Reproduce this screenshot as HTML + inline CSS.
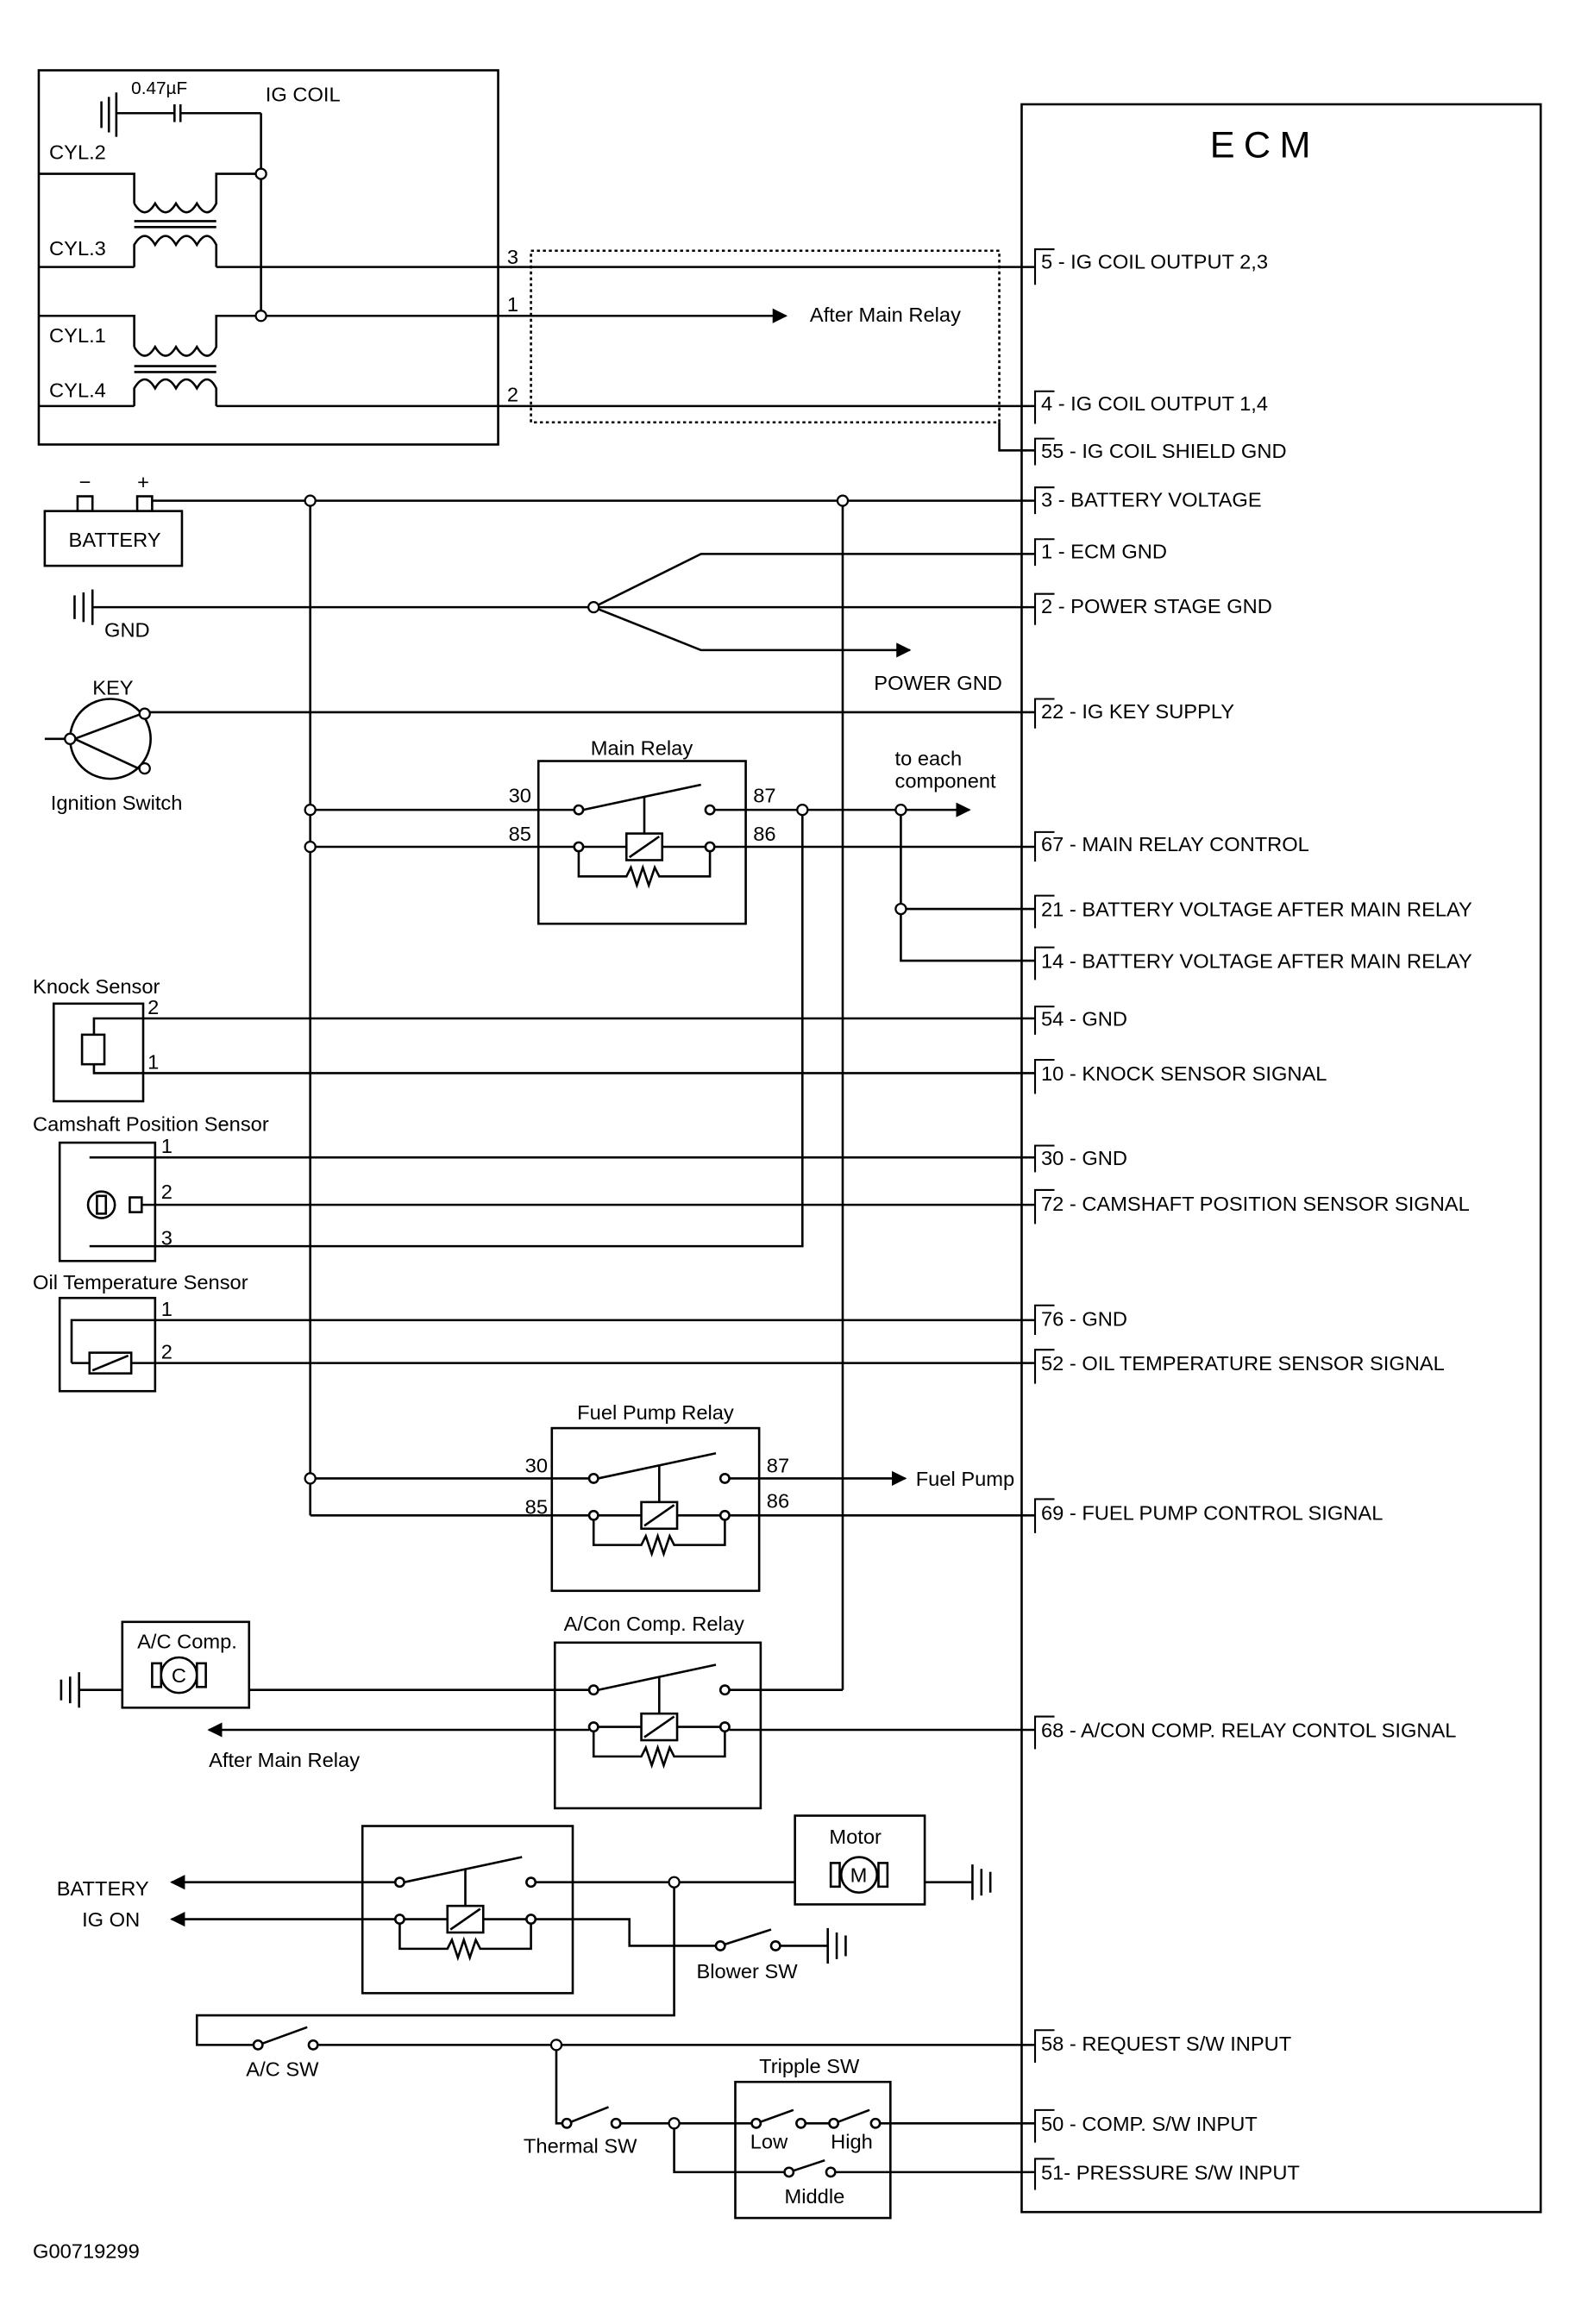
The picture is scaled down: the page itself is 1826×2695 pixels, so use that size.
<!DOCTYPE html>
<html><head><meta charset="utf-8"><style>
html,body{margin:0;padding:0;background:#fff}
svg{display:block}
text{font-family:"Liberation Sans",Arial,sans-serif;font-size:13.7px;fill:#000}
</style></head><body>
<svg width="1826" height="2695" viewBox="0 0 1056 1558" preserveAspectRatio="none" xmlns="http://www.w3.org/2000/svg">
<defs>
<marker id="ar" markerWidth="10" markerHeight="10" refX="9" refY="5" orient="auto" markerUnits="userSpaceOnUse"><path d="M0,0 L10,5 L0,10 z" fill="#000"/></marker>
<g id="relay">
 <circle cx="0" cy="0" r="3" fill="#fff" stroke="#000"/>
 <circle cx="88" cy="0" r="3" fill="#fff" stroke="#000"/>
 <circle cx="0" cy="25" r="3" fill="#fff" stroke="#000"/>
 <circle cx="88" cy="25" r="3" fill="#fff" stroke="#000"/>
 <line x1="3" y1="0" x2="82" y2="-17"/>
 <line x1="44" y1="-9" x2="44" y2="16"/>
 <line x1="3" y1="25" x2="32" y2="25"/>
 <line x1="56" y1="25" x2="85" y2="25"/>
 <rect x="32" y="16" width="24" height="18" fill="#fff"/>
 <line x1="34" y1="32" x2="54" y2="18"/>
 <polyline points="0,28 0,45 32,45 35,39 39,51 43,39 47,51 51,39 54,45 88,45 88,28" fill="none"/>
</g>
</defs>
<g transform="translate(0,2.5) scale(1,0.9916)">
<g stroke="#000" stroke-width="1.5" fill="none">
<rect x="26" y="45" width="308" height="253"/>
<line x1="68" y1="66" x2="68" y2="84"/><line x1="73" y1="63" x2="73" y2="87"/>
<line x1="78" y1="60" x2="78" y2="90"/>
<line x1="78" y1="74" x2="117" y2="74"/><line x1="117" y1="68" x2="117" y2="80"/><line x1="121" y1="68" x2="121" y2="80"/>
<line x1="121" y1="74" x2="175" y2="74"/>
<line x1="175" y1="74" x2="175" y2="208"/>
<polyline points="26,115 90,115 90,135"/>
<path d="M90,135 q7,12 14,0 q7,12 14,0 q7,12 14,0 q7,12 13,0 L145,115 L172,115"/>
<line x1="90" y1="147" x2="145" y2="147"/><line x1="90" y1="151" x2="145" y2="151"/>
<path d="M90,178 L90,163 q7,-12 14,0 q7,-12 14,0 q7,-12 14,0 q7,-12 13,0 L145,178"/>
<polyline points="26,178 90,178"/>
<line x1="145" y1="178" x2="694" y2="178"/>
<polyline points="26,211 90,211 90,232"/>
<path d="M90,232 q7,12 14,0 q7,12 14,0 q7,12 14,0 q7,12 13,0 L145,211 L172,211"/>
<line x1="90" y1="245" x2="145" y2="245"/><line x1="90" y1="249" x2="145" y2="249"/>
<path d="M90,272 L90,260 q7,-12 14,0 q7,-12 14,0 q7,-12 14,0 q7,-12 13,0 L145,272"/>
<polyline points="26,272 90,272"/>
<line x1="145" y1="272" x2="694" y2="272"/>
<line x1="178" y1="211" x2="527" y2="211" marker-end="url(#ar)"/>
<rect x="356" y="167" width="314" height="116" stroke-dasharray="2,2"/>
<polyline points="670,283 670,302 694,302"/>
<rect x="685" y="68" width="348" height="1425"/>
<rect x="30" y="343" width="92" height="37"/>
<rect x="52" y="333" width="10" height="10"/><rect x="92" y="333" width="10" height="10"/>
<line x1="102" y1="336" x2="694" y2="336"/>
<line x1="50" y1="400" x2="50" y2="416"/><line x1="56" y1="398" x2="56" y2="418"/><line x1="62" y1="396" x2="62" y2="420"/>
<line x1="62" y1="408" x2="694" y2="408"/>
<polyline points="398,408 470,372 694,372"/>
<polyline points="398,408 470,437 610,437" marker-end="url(#ar)"/>
<circle cx="74" cy="497" r="27"/>
<line x1="50" y1="497" x2="95" y2="518"/><line x1="50" y1="497" x2="95" y2="480"/>
<line x1="30" y1="497" x2="47" y2="497"/>
<line x1="97" y1="479" x2="694" y2="479"/>
<line x1="208" y1="336" x2="208" y2="1022"/>
<line x1="565" y1="336" x2="565" y2="1140"/>
<line x1="208" y1="545" x2="385" y2="545"/>
<line x1="208" y1="570" x2="385" y2="570"/>
<line x1="479" y1="545" x2="650" y2="545" marker-end="url(#ar)"/>
<line x1="479" y1="570" x2="694" y2="570"/>
<polyline points="538,545 538,840 60,840"/>
<polyline points="604,545 604,647 694,647"/>
<line x1="604" y1="612" x2="694" y2="612"/>
<rect x="361" y="512" width="139" height="110"/>
<g transform="translate(388,545)"><use href="#relay"/></g>
<rect x="36" y="676" width="60" height="66"/>
<rect x="55" y="697" width="15" height="20"/>
<polyline points="63,697 63,686 96,686"/><polyline points="63,717 63,723 96,723"/>
<line x1="96" y1="686" x2="694" y2="686"/>
<line x1="96" y1="723" x2="694" y2="723"/>
<rect x="40" y="770" width="64" height="80"/>
<circle cx="68" cy="812" r="9"/><rect x="65" y="806" width="6" height="12"/>
<rect x="87" y="807" width="8" height="10"/>
<line x1="60" y1="780" x2="694" y2="780"/>
<line x1="95" y1="812" x2="694" y2="812"/>
<rect x="40" y="875" width="64" height="63"/>
<rect x="60" y="912" width="28" height="14"/><line x1="62" y1="924" x2="86" y2="914"/>
<polyline points="48,919 48,890 104,890"/>
<line x1="48" y1="919" x2="60" y2="919"/>
<line x1="88" y1="919" x2="104" y2="919"/>
<line x1="104" y1="890" x2="694" y2="890"/>
<line x1="104" y1="919" x2="694" y2="919"/>
<rect x="370" y="963" width="139" height="110"/>
<g transform="translate(398,997)"><use href="#relay"/></g>
<line x1="208" y1="997" x2="395" y2="997"/>
<line x1="208" y1="1022" x2="395" y2="1022"/>
<line x1="489" y1="997" x2="607" y2="997" marker-end="url(#ar)"/>
<line x1="489" y1="1022" x2="694" y2="1022"/>
<rect x="372" y="1108" width="138" height="112"/>
<g transform="translate(398,1140)"><use href="#relay"/></g>
<line x1="167" y1="1140" x2="395" y2="1140"/>
<line x1="489" y1="1140" x2="565" y2="1140"/>
<line x1="395" y1="1167" x2="140" y2="1167" marker-end="url(#ar)"/>
<line x1="489" y1="1167" x2="694" y2="1167"/>
<rect x="82" y="1094" width="85" height="58"/>
<circle cx="120" cy="1130" r="12"/>
<rect x="102" y="1122" width="6" height="16"/><rect x="132" y="1122" width="6" height="16"/>
<line x1="41" y1="1133" x2="41" y2="1147"/><line x1="47" y1="1131" x2="47" y2="1149"/><line x1="53" y1="1128" x2="53" y2="1152"/>
<line x1="53" y1="1140" x2="82" y2="1140"/>
<rect x="243" y="1232" width="141" height="113"/>
<g transform="translate(268,1270)"><use href="#relay"/></g>
<line x1="265" y1="1270" x2="115" y2="1270" marker-end="url(#ar)"/>
<line x1="265" y1="1295" x2="115" y2="1295" marker-end="url(#ar)"/>
<line x1="359" y1="1270" x2="533" y2="1270"/>
<polyline points="359,1295 422,1295 422,1313 480,1313"/>
<circle cx="483" cy="1313" r="3" fill="#fff"/><circle cx="520" cy="1313" r="3" fill="#fff"/>
<line x1="486" y1="1312" x2="517" y2="1302"/>
<line x1="523" y1="1313" x2="555" y2="1313"/>
<line x1="555" y1="1301" x2="555" y2="1325"/><line x1="561" y1="1304" x2="561" y2="1322"/><line x1="567" y1="1306" x2="567" y2="1320"/>
<rect x="533" y="1225" width="87" height="60"/>
<circle cx="576" cy="1265" r="12"/>
<rect x="557" y="1257" width="6" height="16"/><rect x="589" y="1257" width="6" height="16"/>
<line x1="620" y1="1270" x2="652" y2="1270"/>
<line x1="652" y1="1258" x2="652" y2="1282"/><line x1="658" y1="1261" x2="658" y2="1279"/><line x1="664" y1="1263" x2="664" y2="1277"/>
<polyline points="452,1270 452,1360 132,1360 132,1380 170,1380"/>
<circle cx="173" cy="1380" r="3" fill="#fff"/><circle cx="210" cy="1380" r="3" fill="#fff"/>
<line x1="176" y1="1379" x2="206" y2="1368"/>
<line x1="213" y1="1380" x2="694" y2="1380"/>
<polyline points="373,1380 373,1433 377,1433"/>
<circle cx="380" cy="1433" r="3" fill="#fff"/><circle cx="413" cy="1433" r="3" fill="#fff"/>
<line x1="383" y1="1432" x2="408" y2="1422"/>
<line x1="416" y1="1433" x2="504" y2="1433"/>
<polyline points="452,1433 452,1466 526,1466"/>
<rect x="493" y="1405" width="104" height="92"/>
<circle cx="507" cy="1433" r="3" fill="#fff"/><circle cx="537" cy="1433" r="3" fill="#fff"/>
<line x1="510" y1="1432" x2="532" y2="1424"/>
<line x1="540" y1="1433" x2="556" y2="1433"/>
<circle cx="559" cy="1433" r="3" fill="#fff"/><circle cx="587" cy="1433" r="3" fill="#fff"/>
<line x1="562" y1="1432" x2="583" y2="1424"/>
<line x1="590" y1="1433" x2="694" y2="1433"/>
<circle cx="529" cy="1466" r="3" fill="#fff"/><circle cx="557" cy="1466" r="3" fill="#fff"/>
<line x1="532" y1="1465" x2="553" y2="1458"/>
<line x1="560" y1="1466" x2="694" y2="1466"/>
<g stroke-width="1.2">
<path d="M707,166 L694,166 L694,190"/><path d="M707,262 L694,262 L694,284"/><path d="M707,294 L694,294 L694,312"/>
<path d="M707,327 L694,327 L694,345"/><path d="M707,362 L694,362 L694,380"/><path d="M707,399 L694,399 L694,420"/>
<path d="M707,470 L694,470 L694,490"/><path d="M707,560 L694,560 L694,580"/><path d="M707,603 L694,603 L694,625"/>
<path d="M707,638 L694,638 L694,660"/><path d="M707,678 L694,678 L694,697"/><path d="M707,714 L694,714 L694,737"/>
<path d="M707,772 L694,772 L694,790"/><path d="M707,802 L694,802 L694,825"/><path d="M707,880 L694,880 L694,900"/>
<path d="M707,910 L694,910 L694,933"/><path d="M707,1011 L694,1011 L694,1034"/><path d="M707,1158 L694,1158 L694,1180"/>
<path d="M707,1370 L694,1370 L694,1392"/><path d="M707,1424 L694,1424 L694,1446"/><path d="M707,1457 L694,1457 L694,1478"/>
</g>
</g>
<g fill="#fff" stroke="#000" stroke-width="1.3">
<circle cx="175" cy="115" r="3.5"/><circle cx="175" cy="211" r="3.5"/>
<circle cx="208" cy="336" r="3.5"/><circle cx="565" cy="336" r="3.5"/><circle cx="398" cy="408" r="3.5"/>
<circle cx="208" cy="545" r="3.5"/><circle cx="208" cy="570" r="3.5"/><circle cx="538" cy="545" r="3.5"/>
<circle cx="604" cy="545" r="3.5"/><circle cx="604" cy="612" r="3.5"/><circle cx="208" cy="997" r="3.5"/>
<circle cx="452" cy="1270" r="3.5"/><circle cx="373" cy="1380" r="3.5"/><circle cx="452" cy="1433" r="3.5"/>
<circle cx="97" cy="480" r="3.5"/><circle cx="97" cy="517" r="3.5"/><circle cx="47" cy="497" r="3.5"/>
</g>
<text x="88" y="61" style="font-size:12px">0.47µF</text>
<text x="178" y="66">IG COIL</text>
<text x="33" y="105">CYL.2</text><text x="33" y="170">CYL.3</text>
<text x="33" y="229">CYL.1</text><text x="33" y="266">CYL.4</text>
<text x="340" y="176">3</text><text x="340" y="208">1</text><text x="340" y="269">2</text>
<text x="543" y="215">After Main Relay</text>
<text x="848" y="104" text-anchor="middle" style="font-size:25px;letter-spacing:6px">ECM</text>
<text x="53" y="328">−</text><text x="92" y="328">+</text>
<text x="46" y="367">BATTERY</text>
<text x="70" y="428">GND</text>
<text x="586" y="464">POWER GND</text>
<text x="62" y="467">KEY</text>
<text x="34" y="545">Ignition Switch</text>
<text x="396" y="508">Main Relay</text>
<text x="341" y="540">30</text><text x="341" y="566">85</text>
<text x="505" y="540">87</text><text x="505" y="566">86</text>
<text x="600" y="515">to each</text><text x="600" y="530">component</text>
<text x="22" y="669">Knock Sensor</text>
<text x="99" y="683">2</text><text x="99" y="720">1</text>
<text x="22" y="762">Camshaft Position Sensor</text>
<text x="108" y="777">1</text><text x="108" y="808">2</text><text x="108" y="839">3</text>
<text x="22" y="869">Oil Temperature Sensor</text>
<text x="108" y="887">1</text><text x="108" y="916">2</text>
<text x="387" y="957">Fuel Pump Relay</text>
<text x="352" y="993">30</text><text x="352" y="1021">85</text>
<text x="514" y="993">87</text><text x="514" y="1017">86</text>
<text x="614" y="1002">Fuel Pump</text>
<text x="378" y="1100">A/Con Comp. Relay</text>
<text x="92" y="1112">A/C Comp.</text>
<text x="115" y="1135">C</text>
<text x="140" y="1192">After Main Relay</text>
<text x="556" y="1244">Motor</text>
<text x="570" y="1270">M</text>
<text x="38" y="1279">BATTERY</text>
<text x="55" y="1300">IG ON</text>
<text x="467" y="1335">Blower SW</text>
<text x="165" y="1401">A/C SW</text>
<text x="351" y="1453">Thermal SW</text>
<text x="509" y="1399">Tripple SW</text>
<text x="503" y="1450">Low</text><text x="557" y="1450">High</text>
<text x="526" y="1487">Middle</text>
<text x="22" y="1524">G00719299</text>
<text x="698" y="179">5 - IG COIL OUTPUT 2,3</text>
<text x="698" y="275">4 - IG COIL OUTPUT 1,4</text>
<text x="698" y="307">55 - IG COIL SHIELD GND</text>
<text x="698" y="340">3 - BATTERY VOLTAGE</text>
<text x="698" y="375">1 - ECM GND</text>
<text x="698" y="412">2 - POWER STAGE GND</text>
<text x="698" y="483">22 - IG KEY SUPPLY</text>
<text x="698" y="573">67 - MAIN RELAY CONTROL</text>
<text x="698" y="617">21 - BATTERY VOLTAGE AFTER MAIN RELAY</text>
<text x="698" y="652">14 - BATTERY VOLTAGE AFTER MAIN RELAY</text>
<text x="698" y="691">54 - GND</text>
<text x="698" y="728">10 - KNOCK SENSOR SIGNAL</text>
<text x="698" y="785">30 - GND</text>
<text x="698" y="816">72 - CAMSHAFT POSITION SENSOR SIGNAL</text>
<text x="698" y="894">76 - GND</text>
<text x="698" y="924">52 - OIL TEMPERATURE SENSOR SIGNAL</text>
<text x="698" y="1025">69 - FUEL PUMP CONTROL SIGNAL</text>
<text x="698" y="1172">68 - A/CON COMP. RELAY  CONTOL SIGNAL</text>
<text x="698" y="1384">58 - REQUEST S/W INPUT</text>
<text x="698" y="1438">50 - COMP. S/W INPUT</text>
<text x="698" y="1471">51- PRESSURE S/W INPUT</text>
</g>
</svg>
</body></html>
